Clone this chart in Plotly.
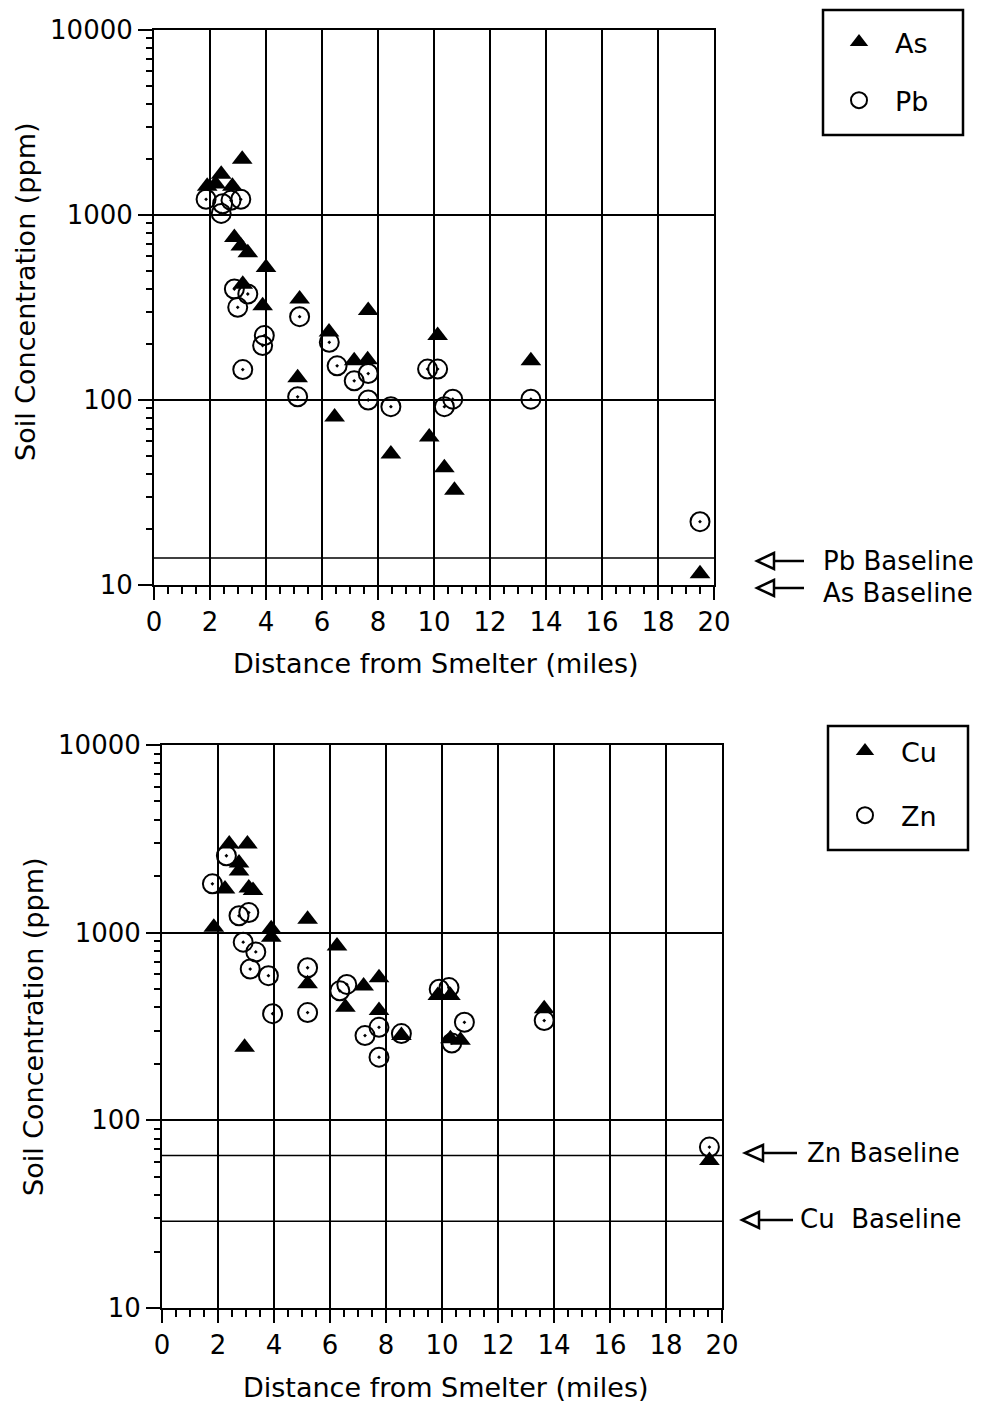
import plotly.graph_objects as go

# ---------------- data ----------------
# Top panel: arsenic and lead soil concentrations vs distance (miles, ppm)
as_dist = [1.9, 2.2, 2.4, 2.8, 3.15, 2.87, 3.1, 3.35, 4.0, 3.17, 3.88, 5.2, 5.13,
           6.25, 6.45, 7.15, 7.63, 7.65, 8.46, 9.83, 10.13, 10.37, 10.73, 13.46, 19.5]
as_conc = [1430, 1470, 1660, 1430, 2000, 755, 680, 625, 520, 423, 323, 352, 132,
           233, 81, 163, 165, 305, 51, 63, 223, 43, 32.5, 163, 11.5]

pb_dist = [1.86, 2.45, 2.75, 3.1, 2.4, 2.87, 3.35, 2.99, 3.94, 3.88, 5.2, 5.13,
           6.26, 6.54, 3.17, 7.15, 7.65, 7.65, 8.46, 9.77, 10.13, 10.37, 10.67,
           13.46, 19.5]
pb_conc = [1216, 1150, 1200, 1216, 1020, 398, 374, 317, 223, 197, 282, 104,
           205, 153, 146, 127, 139, 100, 92, 147, 147, 92, 101, 101, 22]

# Bottom panel: copper and zinc
cu_dist = [2.4, 3.05, 2.75, 2.75, 2.25, 3.1, 3.25, 1.85, 3.9, 3.9, 2.95, 5.2, 5.2,
           6.25, 6.55, 7.2, 7.75, 7.75, 8.55, 9.85, 10.3, 10.3, 10.66, 13.65, 19.55]
cu_conc = [2970, 2970, 2350, 2130, 1710, 1730, 1680, 1070, 1050, 945, 245, 1180, 535,
           850, 400, 520, 575, 385, 283, 462, 462, 272, 267, 393, 61]

zn_dist = [2.3, 1.8, 2.75, 3.1, 2.9, 3.35, 3.15, 3.8, 3.95, 5.2, 5.2, 6.35, 6.6,
           7.25, 7.75, 7.75, 8.55, 9.9, 10.25, 10.8, 10.35, 13.65, 19.55]
zn_conc = [2570, 1820, 1230, 1280, 890, 790, 640, 590, 370, 650, 375, 490, 530,
           283, 313, 217, 290, 500, 510, 333, 258, 340, 72]

# Baselines (ppm)
pb_baseline = 14
zn_baseline = 65
cu_baseline = 29

# Axis ticks and labels
x_tickvals = [0, 2, 4, 6, 8, 10, 12, 14, 16, 18, 20]
x_ticktext = ["0", "2", "4", "6", "8", "10", "12", "14", "16", "18", "20"]
x_minor = [v / 2 for v in range(0, 41) if v % 4 != 0]
y_tickvals = [10, 100, 1000, 10000]
y_ticktext = ["10", "100", "1000", "10000"]
y_minor = [m * d for d in [10, 100, 1000] for m in range(2, 10)]

x_title = "Distance from Smelter (miles)"
y_title = "Soil Concentration (ppm)"

# ---------------- layout helpers ----------------
W, H = 989, 1404
FONT = "DejaVu Sans"


def px(p):
    return p / W


def py(p):
    return 1 - p / H


top_xdom = [px(154), px(714)]
top_ydom = [py(585), py(30)]
bot_xdom = [px(162), px(722)]
bot_ydom = [py(1308), py(745)]

fig = go.Figure()

tri = dict(symbol="triangle-up", size=18, color="black", line=dict(width=0))
circ = dict(symbol="circle-open-dot", size=19, color="black", line=dict(width=2, color="black"))
circ_leg = dict(symbol="circle-open", size=18, color="black", line=dict(width=2, color="black"))
tri_leg = dict(symbol="triangle-up", size=16, color="black", line=dict(width=0))

# baseline lines (drawn first so markers sit on top)
fig.add_trace(go.Scatter(x=[0, 20], y=[pb_baseline, pb_baseline], mode="lines",
                         line=dict(color="black", width=1.5), xaxis="x", yaxis="y",
                         showlegend=False, hoverinfo="skip"))
fig.add_trace(go.Scatter(x=[0, 20], y=[zn_baseline, zn_baseline], mode="lines",
                         line=dict(color="black", width=1.5), xaxis="x2", yaxis="y2",
                         showlegend=False, hoverinfo="skip"))
fig.add_trace(go.Scatter(x=[0, 20], y=[cu_baseline, cu_baseline], mode="lines",
                         line=dict(color="black", width=1.5), xaxis="x2", yaxis="y2",
                         showlegend=False, hoverinfo="skip"))

# data
fig.add_trace(go.Scatter(x=pb_dist, y=pb_conc, mode="markers", marker=circ, name="Pb",
                         xaxis="x", yaxis="y", showlegend=False))
fig.add_trace(go.Scatter(x=as_dist, y=as_conc, mode="markers", marker=tri, name="As",
                         xaxis="x", yaxis="y", showlegend=False))
fig.add_trace(go.Scatter(x=zn_dist, y=zn_conc, mode="markers", marker=circ, name="Zn",
                         xaxis="x2", yaxis="y2", showlegend=False))
fig.add_trace(go.Scatter(x=cu_dist, y=cu_conc, mode="markers", marker=tri, name="Cu",
                         xaxis="x2", yaxis="y2", showlegend=False))

# legend entries
fig.add_trace(go.Scatter(x=[None], y=[None], mode="markers", marker=tri_leg, name="As",
                         legend="legend", legendgroup="a", xaxis="x", yaxis="y"))
fig.add_trace(go.Scatter(x=[None], y=[None], mode="markers", marker=circ_leg, name="Pb",
                         legend="legend", legendgroup="b", xaxis="x", yaxis="y"))
fig.add_trace(go.Scatter(x=[None], y=[None], mode="markers", marker=tri_leg, name="Cu",
                         legend="legend2", legendgroup="c", xaxis="x2", yaxis="y2"))
fig.add_trace(go.Scatter(x=[None], y=[None], mode="markers", marker=circ_leg, name="Zn",
                         legend="legend2", legendgroup="d", xaxis="x2", yaxis="y2"))


def xcfg(domain, anchor):
    return dict(domain=domain, anchor=anchor, range=[0, 20], tickmode="array",
                tickvals=x_tickvals, ticktext=x_ticktext, ticks="outside", ticklen=13,
                tickwidth=2, tickcolor="black", showgrid=True, gridcolor="black",
                gridwidth=2, showline=True, linecolor="black", linewidth=2, mirror=True,
                zeroline=False, automargin=False,
                tickfont=dict(family=FONT, size=26, color="black"),
                minor=dict(tickmode="array", tickvals=x_minor, ticks="outside", ticklen=7,
                           tickwidth=2, tickcolor="black", showgrid=False))


def ycfg(domain, anchor):
    return dict(domain=domain, anchor=anchor, type="log", range=[1, 4], tickmode="array",
                tickvals=y_tickvals, ticktext=y_ticktext, ticks="outside", ticklen=14,
                tickwidth=2, tickcolor="black", showgrid=True, gridcolor="black",
                gridwidth=2, showline=True, linecolor="black", linewidth=2, mirror=True,
                zeroline=False, automargin=False,
                tickfont=dict(family=FONT, size=26, color="black"),
                minor=dict(tickmode="array", tickvals=y_minor, ticks="outside", ticklen=6,
                           tickwidth=2, tickcolor="black", showgrid=False))


annotations = []


def text(x, y, s, size=27, angle=0, xanchor="center"):
    annotations.append(dict(x=px(x), y=py(y), xref="paper", yref="paper", text=s,
                            showarrow=False, textangle=angle, xanchor=xanchor,
                            yanchor="middle", font=dict(family=FONT, size=size, color="black")))


text(436, 663, x_title)
text(446, 1387, x_title)
text(25, 292, y_title, angle=-90)
text(33, 1027, y_title, angle=-90)
text(821, 561, "Pb Baseline", size=26, xanchor="left")
text(821, 593, "As Baseline", size=26, xanchor="left")
text(805, 1153, "Zn Baseline", size=26, xanchor="left")
text(798, 1219, "Cu\u00a0 Baseline", size=26, xanchor="left")

shapes = []


def arrow(tip_x, y, back_x, end_x, half=8):
    path = "M {},{} L {},{} L {},{} Z".format(px(back_x), py(y - half), px(tip_x), py(y),
                                               px(back_x), py(y + half))
    shapes.append(dict(type="path", path=path, xref="paper", yref="paper",
                       line=dict(color="black", width=2.5), fillcolor="rgba(0,0,0,0)"))
    shapes.append(dict(type="line", xref="paper", yref="paper", x0=px(back_x), x1=px(end_x),
                       y0=py(y), y1=py(y), line=dict(color="black", width=2.5)))


arrow(757, 561, 774, 804)
arrow(757, 588, 774, 804)
arrow(745, 1153, 763, 797)
arrow(742, 1220, 759, 793)


def box(x0, y0, x1, y1):
    shapes.append(dict(type="rect", xref="paper", yref="paper", x0=px(x0), x1=px(x1),
                       y0=py(y1), y1=py(y0), line=dict(color="black", width=2.5),
                       fillcolor="rgba(0,0,0,0)"))


box(823, 10, 963, 135)
box(828, 726, 968, 850)

legend_common = dict(xanchor="left", yanchor="top", bgcolor="rgba(0,0,0,0)",
                     borderwidth=0, font=dict(family=FONT, size=27, color="black"),
                     itemwidth=62)

fig.update_layout(
    width=W, height=H, margin=dict(l=0, r=0, t=0, b=0, autoexpand=False),
    paper_bgcolor="white", plot_bgcolor="white", showlegend=True,
    xaxis=xcfg(top_xdom, "y"), yaxis=ycfg(top_ydom, "x"),
    xaxis2=xcfg(bot_xdom, "y2"), yaxis2=ycfg(bot_ydom, "x2"),
    legend=dict(x=px(823), y=py(18), tracegroupgap=20, **legend_common),
    legend2=dict(x=px(829), y=py(727), tracegroupgap=26, **legend_common),
    annotations=annotations, shapes=shapes,
)

fig.write_html("out.html")
